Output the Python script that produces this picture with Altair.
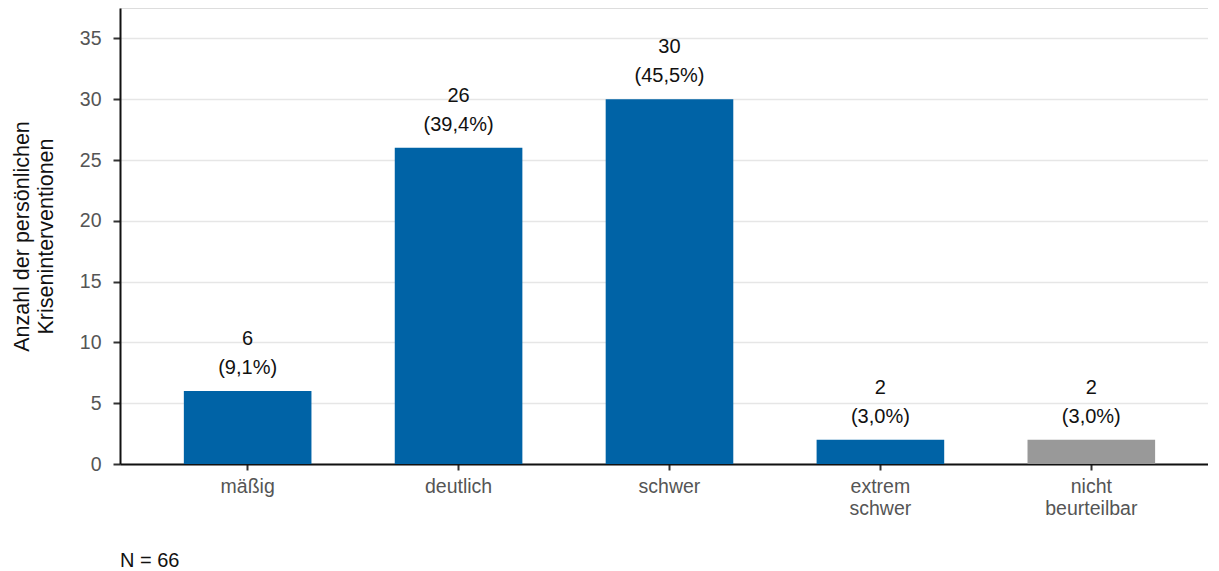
import altair as alt
import pandas as pd

categories = ["mäßig", "deutlich", "schwer", "extrem schwer", "nicht beurteilbar"]
counts = [6, 26, 30, 2, 2]
percent_labels = ["(9,1%)", "(39,4%)", "(45,5%)", "(3,0%)", "(3,0%)"]
colors = ["#0063a6", "#0063a6", "#0063a6", "#0063a6", "#999999"]

df = pd.DataFrame({
    "cat": categories,
    "n": counts,
    "pct": percent_labels,
    "col": colors,
})

FONT = "Liberation Sans"

x = alt.X("cat:N", sort=categories, title=None,
          scale=alt.Scale(paddingInner=0.395, paddingOuter=0.2767, align=0.547),
          axis=alt.Axis(labelAngle=0, labelExpr="split(datum.label, ' ')",
                        labelFontSize=19.5, labelColor="#555555", labelFont=FONT,
                        labelLineHeight=22, labelPadding=7,
                        domainColor="#111111", domainWidth=2,
                        tickColor="#333333", tickSize=6, tickWidth=2,
                        grid=False))
y = alt.Y("n:Q", title=["Anzahl der persönlichen", "Kriseninterventionen"],
          scale=alt.Scale(domain=[0, 37.5], nice=False),
          axis=alt.Axis(values=[0, 5, 10, 15, 20, 25, 30, 35],
                        labelFontSize=19.5, labelColor="#555555", labelFont=FONT,
                        labelPadding=12,
                        titleFontSize=21.5, titleFont=FONT, titleColor="#111111",
                        titleFontWeight="normal", titlePadding=22, titleLineHeight=24,
                        domainColor="#111111", domainWidth=2,
                        tickColor="#333333", tickSize=7, tickWidth=2,
                        gridColor="#e6e6e6", gridWidth=1.5))

bars = alt.Chart(df).mark_bar().encode(
    x=x, y=y, color=alt.Color("col:N", scale=None)
)
t1 = alt.Chart(df).mark_text(font=FONT, fontSize=20, color="#111111",
                             baseline="middle", dy=-52).encode(
    x=alt.X("cat:N", sort=categories), y="n:Q", text="n:Q")
t2 = alt.Chart(df).mark_text(font=FONT, fontSize=20, color="#111111",
                             baseline="middle", dy=-23).encode(
    x=alt.X("cat:N", sort=categories), y="n:Q", text="pct:N")

chart = alt.layer(bars, t1, t2).properties(
    width=1088, height=456,
    title=alt.TitleParams("N = 66", orient="bottom", anchor="start", frame="group",
                          font=FONT, fontSize=20, fontWeight="normal", color="#111111",
                          offset=33),
).configure_view(stroke=None).configure(padding={"left": 3, "top": 0, "right": 0, "bottom": 0})

chart.save("out.html", embed_options={"renderer": "svg", "actions": False})
